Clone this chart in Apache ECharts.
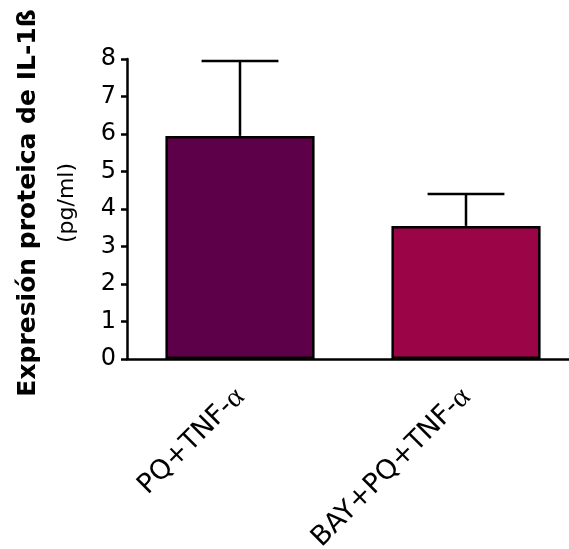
<!DOCTYPE html>
<html>
<head>
<meta charset="utf-8">
<script src="https://cdn.jsdelivr.net/npm/echarts@6/dist/echarts.min.js"></script>
<style>html,body{margin:0;padding:0;background:#fff;}#c{width:569px;height:549px;}</style>
</head>
<body>
<div id="c"></div>
<script>
var categories = ['PQ+TNF-', 'BAY+PQ+TNF-'];
var means = [5.95, 3.55];
var errors = [2.0, 0.85];
var barColors = ['#5e0049', '#9b0447'];
var yTicks = [0, 1, 2, 3, 4, 5, 6, 7, 8];

var chart = echarts.init(document.getElementById('c'));
var font = '"DejaVu Sans", sans-serif';
chart.setOption({
  animation: false,
  grid: {left: 127, width: 452, top: 59, bottom: 190, containLabel: false, outerBoundsMode: 'none'},
  xAxis: {
    type: 'category',
    data: categories,
    axisLine: {lineStyle: {color: '#000', width: 2.5}},
    axisTick: {alignWithLabel: true, length: 6, lineStyle: {color: '#000', width: 2.5}},
    axisLabel: {
      rotate: 45, margin: 34, color: '#000', fontSize: 27, fontFamily: font,
      formatter: function (v) { return v + '{a|α}'; },
      rich: {a: {fontFamily: '"Liberation Serif", serif', fontSize: 29, color: '#000'}}
    }
  },
  yAxis: {
    type: 'value', min: 0, max: 8, interval: 1,
    splitLine: {show: false},
    axisLine: {show: true, lineStyle: {color: '#000', width: 2.5}},
    axisTick: {show: true, length: 6, lineStyle: {color: '#000', width: 2.5}},
    axisLabel: {margin: 11, color: '#000', fontSize: 24, fontFamily: font,
      formatter: function (v) { return yTicks.indexOf(v) >= 0 ? String(v) : ''; }}
  },
  series: [
    {
      type: 'custom',
      z: 1,
      renderItem: function (params, api) {
        var i = api.value(0);
        var top = api.coord([i, api.value(1) + api.value(2)]);
        var base = api.coord([i, api.value(1)]);
        var bw = api.size([1, 0])[0] * 0.34;
        return {type: 'group', children: [
          {type: 'line', shape: {x1: base[0], y1: base[1], x2: top[0], y2: top[1]}, style: {stroke: '#000', lineWidth: 2.5}},
          {type: 'line', shape: {x1: top[0] - bw / 2, y1: top[1], x2: top[0] + bw / 2, y2: top[1]}, style: {stroke: '#000', lineWidth: 2.5}}
        ]};
      },
      data: means.map(function (m, i) { return [i, m, errors[i]]; })
    },
    {
      type: 'bar',
      z: 2,
      barWidth: '66%',
      data: means.map(function (m, i) {
        return {value: m, itemStyle: {color: barColors[i], borderColor: '#000', borderWidth: 2.5}};
      })
    }
  ],
  graphic: [
    {type: 'text', x: 28, y: 203, rotation: Math.PI / 2,
      style: {text: 'Expresión proteica de IL-1ß', font: 'bold 25px "DejaVu Sans", sans-serif', fill: '#000', textAlign: 'center', textVerticalAlign: 'middle'}},
    {type: 'text', x: 67, y: 203, rotation: Math.PI / 2,
      style: {text: '(pg/ml)', font: '22px "DejaVu Sans", sans-serif', fill: '#000', textAlign: 'center', textVerticalAlign: 'middle'}}
  ]
});
</script>
</body>
</html>
